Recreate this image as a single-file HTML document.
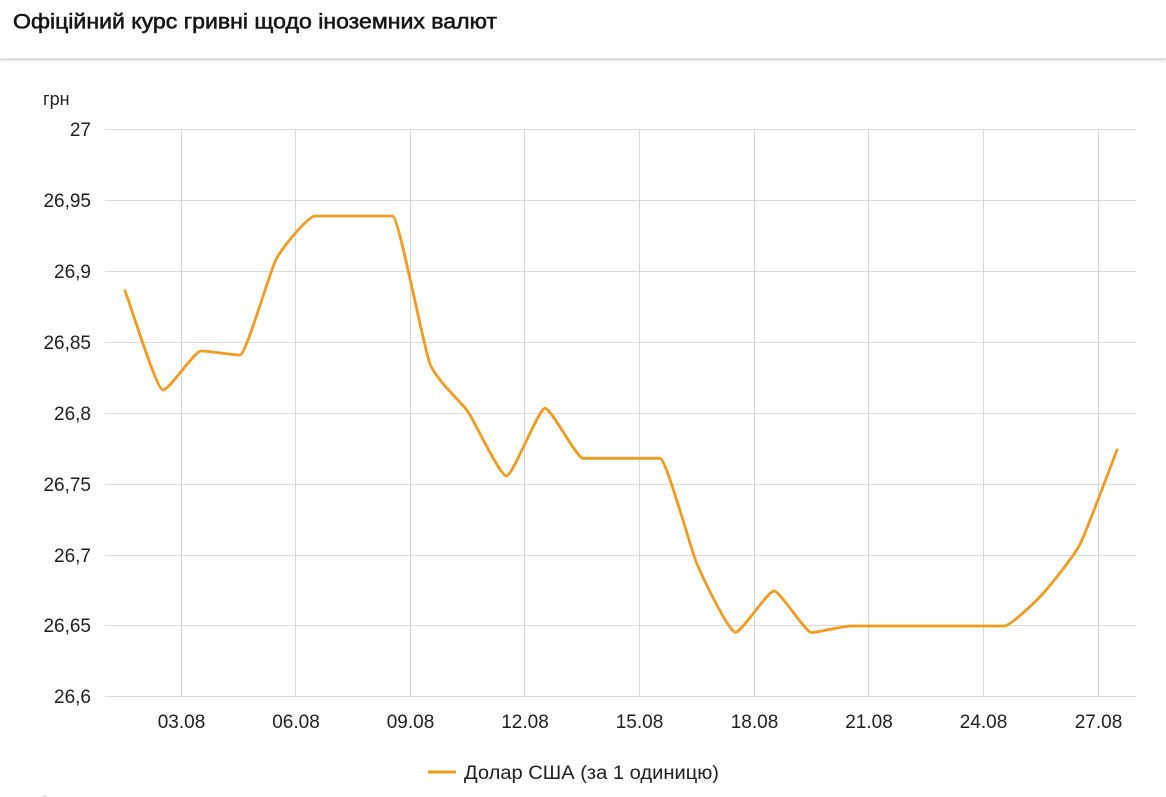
<!DOCTYPE html>
<html>
<head>
<meta charset="utf-8">
<style>
  html,body{margin:0;padding:0;background:#fff;}
  body{width:1166px;height:797px;overflow:hidden;position:relative;font-family:"Liberation Sans","DejaVu Sans",sans-serif;}
  .hdr{position:absolute;left:0;top:0;width:1166px;height:58px;background:#fff;box-shadow:0 1px 3px rgba(0,0,0,0.22);border-bottom:1px solid #e2e2e2;}
  svg{position:absolute;left:0;top:0;}
</style>
</head>
<body>
<div class="hdr"></div>
<svg width="1166" height="797" viewBox="0 0 1166 797" xmlns="http://www.w3.org/2000/svg">
  <text x="13" y="28.5" font-family="Liberation Sans, DejaVu Sans, sans-serif" font-size="21" fill="#151515" stroke="#151515" stroke-width="0.55" textLength="484" lengthAdjust="spacingAndGlyphs">Офіційний курс гривні щодо іноземних валют</text>

  <!-- unit label -->
  <text x="43" y="105" font-family="Liberation Sans, sans-serif" font-size="18" fill="#222">грн</text>

  <!-- horizontal gridlines -->
  <g stroke="#dcdcdc" stroke-width="1">
    <line x1="105" x2="1136" y1="129.5" y2="129.5"/>
    <line x1="105" x2="1136" y1="200.5" y2="200.5"/>
    <line x1="105" x2="1136" y1="271.5" y2="271.5"/>
    <line x1="105" x2="1136" y1="342.5" y2="342.5"/>
    <line x1="105" x2="1136" y1="413.5" y2="413.5"/>
    <line x1="105" x2="1136" y1="484.5" y2="484.5"/>
    <line x1="105" x2="1136" y1="555.5" y2="555.5"/>
    <line x1="105" x2="1136" y1="625.5" y2="625.5"/>
    <line x1="105" x2="1136" y1="696.5" y2="696.5"/>
  </g>
  <!-- vertical gridlines -->
  <g stroke="#d6d6d6" stroke-width="1">
    <line x1="181.5" x2="181.5" y1="129" y2="697"/>
    <line x1="295.5" x2="295.5" y1="129" y2="697"/>
    <line x1="410.5" x2="410.5" y1="129" y2="697"/>
    <line x1="524.5" x2="524.5" y1="129" y2="697"/>
    <line x1="639.5" x2="639.5" y1="129" y2="697"/>
    <line x1="754.5" x2="754.5" y1="129" y2="697"/>
    <line x1="868.5" x2="868.5" y1="129" y2="697"/>
    <line x1="983.5" x2="983.5" y1="129" y2="697"/>
    <line x1="1098.5" x2="1098.5" y1="129" y2="697"/>
  </g>

  <!-- y axis labels -->
  <g font-family="Liberation Sans, sans-serif" font-size="19" fill="#1e1e1e" text-anchor="end">
    <text x="91" y="136">27</text>
    <text x="91" y="207">26,95</text>
    <text x="91" y="278">26,9</text>
    <text x="91" y="349">26,85</text>
    <text x="91" y="420">26,8</text>
    <text x="91" y="491">26,75</text>
    <text x="91" y="562">26,7</text>
    <text x="91" y="632">26,65</text>
    <text x="91" y="703">26,6</text>
  </g>

  <!-- x axis labels -->
  <g font-family="Liberation Sans, sans-serif" font-size="19" fill="#1e1e1e" text-anchor="middle">
    <text x="181.5" y="728">03.08</text>
    <text x="296" y="728">06.08</text>
    <text x="410.5" y="728">09.08</text>
    <text x="525" y="728">12.08</text>
    <text x="639.5" y="728">15.08</text>
    <text x="754.5" y="728">18.08</text>
    <text x="869" y="728">21.08</text>
    <text x="983.5" y="728">24.08</text>
    <text x="1098.5" y="728">27.08</text>
  </g>

  <!-- series (static fallback path; script below regenerates the same shape) -->
  <path id="series" fill="none" stroke="#f29b1d" stroke-width="2.8" stroke-linejoin="round" stroke-linecap="round"
    d="M125,290.7 C131.46,304.18 156.54,390 163,390 C169.46,390 194.37,351 201,351 C207.63,351 233.37,355 240,355 C246.12,355 269.88,263.25 276,259.5 C282.63,255.75 308.37,216 315,216 C321.63,216 347.37,216 354,216 C360.63,216 385.9,216 392.5,216 C398.9,216 423.63,358.3 430,364 C436.46,369.72 461.54,403.6 468,411.7 C474.55,419.85 499.95,476 506.5,476 C513.05,476 538.45,408.3 545,408.3 C551.46,408.3 576.54,458.3 583,458.3 C589.46,458.3 614.54,458.3 621,458.3 C627.63,458.3 653.37,458.3 660,458.3 C666.29,458.3 690.71,557.3 697,564 C703.55,570.97 728.95,632.3 735.5,632.3 C742.05,632.3 767.45,591 774,591 C780.37,591 805.13,632.5 811.5,632.5 C818.05,632.5 843.45,626 850,626 C856.46,626 881.54,626 888,626 C894.55,626 919.95,626 926.5,626 C933.05,626 958.45,626 965,626 C971.63,626 997.37,626 1004,626 C1010.41,626 1035.29,601.29 1041.7,595 C1048.21,588.62 1073.49,551.93 1080,544.3 C1086.29,536.93 1110.71,463.27 1117,450"/>

  <!-- legend -->
  <line x1="428" x2="456" y1="772" y2="772" stroke="#f29b1d" stroke-width="3"/>
  <text x="464" y="779" font-family="Liberation Sans, sans-serif" font-size="19" fill="#1e1e1e" textLength="255" lengthAdjust="spacingAndGlyphs">Долар США (за 1 одиницю)</text>

  <!-- tiny mark bottom-left -->
  <circle cx="45" cy="798" r="2.5" fill="#cfcfcf"/>
</svg>
<script>
(function(){
  var pts=[[125,290.7],[163,390],[201,351],[240,355],[276,259.5],[315,216],[354,216],[392.5,216],[430,364],[468,411.7],[506.5,476],[545,408.3],[583,458.3],[621,458.3],[660,458.3],[697,564],[735.5,632.3],[774,591],[811.5,632.5],[850,626],[888,626],[926.5,626],[965,626],[1004,626],[1041.7,595],[1080,544.3],[1117,450]];
  var n=pts.length, s=[], t=[];
  for(var i=0;i<n-1;i++){s.push((pts[i+1][1]-pts[i][1])/(pts[i+1][0]-pts[i][0]));}
  for(var i=1;i<n-1;i++){
    var h0=pts[i][0]-pts[i-1][0], h1=pts[i+1][0]-pts[i][0];
    var s0=s[i-1], s1=s[i];
    var p=(s0*h1+s1*h0)/(h0+h1);
    var sg=(s0>0?1:(s0<0?-1:0))+(s1>0?1:(s1<0?-1:0));
    t[i]=sg*Math.min(Math.abs(s0),Math.abs(s1),0.5*Math.abs(p))||0;
  }
  t[0]=s[0];
  t[n-1]=s[n-2];
  var F=0.17;
  var d="M"+pts[0][0]+","+pts[0][1];
  for(var i=0;i<n-1;i++){
    var dx=(pts[i+1][0]-pts[i][0])*F;
    d+=" C"+(pts[i][0]+dx).toFixed(2)+","+(pts[i][1]+dx*t[i]).toFixed(2)+" "+(pts[i+1][0]-dx).toFixed(2)+","+(pts[i+1][1]-dx*t[i+1]).toFixed(2)+" "+pts[i+1][0]+","+pts[i+1][1];
  }
  document.getElementById("series").setAttribute("d",d);
})();
</script>
</body>
</html>
